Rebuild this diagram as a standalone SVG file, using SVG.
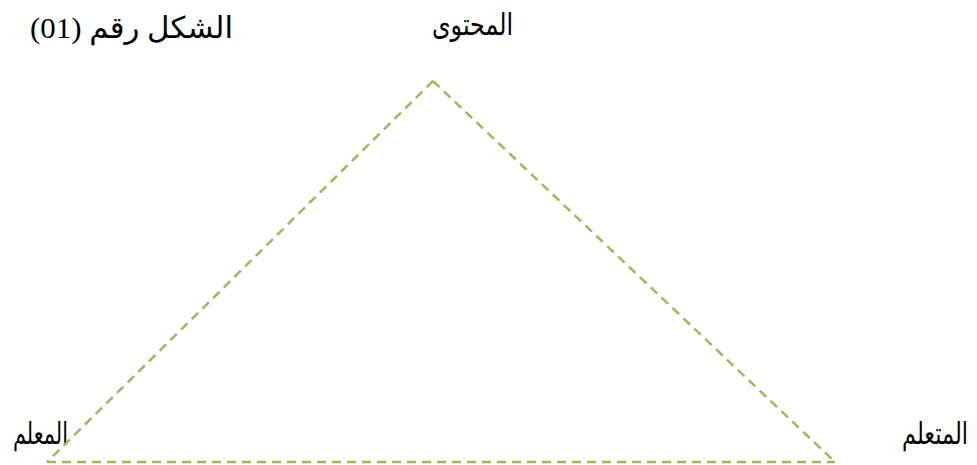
<svg xmlns="http://www.w3.org/2000/svg" width="977" height="465" viewBox="0 0 977 465">
<style>
.lbl{font-family:"Liberation Serif","DejaVu Sans",serif;font-size:30px;fill:#000}
.rtl{direction:rtl;unicode-bidi:embed}
.edge{fill:none;stroke:#9BBB59;stroke-width:2.5;stroke-dasharray:9,6}
</style>
<rect width="977" height="465" fill="#fff"/>
<g id="title"><text class="lbl rtl" x="233" y="38" text-anchor="start" textLength="203" lengthAdjust="spacingAndGlyphs">الشكل رقم (01)</text></g>
<g id="node-content"><text class="lbl" x="472.5" y="35" text-anchor="middle" textLength="81" lengthAdjust="spacingAndGlyphs">المحتوى</text></g>
<g id="node-teacher"><text class="lbl" x="40.5" y="444" text-anchor="middle" textLength="55" lengthAdjust="spacingAndGlyphs">المعلم</text></g>
<g id="node-learner"><text class="lbl" x="935" y="444" text-anchor="middle" textLength="66" lengthAdjust="spacingAndGlyphs">المتعلم</text></g>
<g id="connectors">
<line class="edge" x1="433" y1="81" x2="47" y2="462"/>
<line class="edge" x1="433" y1="81" x2="835" y2="462"/>
<line class="edge" x1="47" y1="462" x2="835" y2="462"/>
</g>
</svg>
